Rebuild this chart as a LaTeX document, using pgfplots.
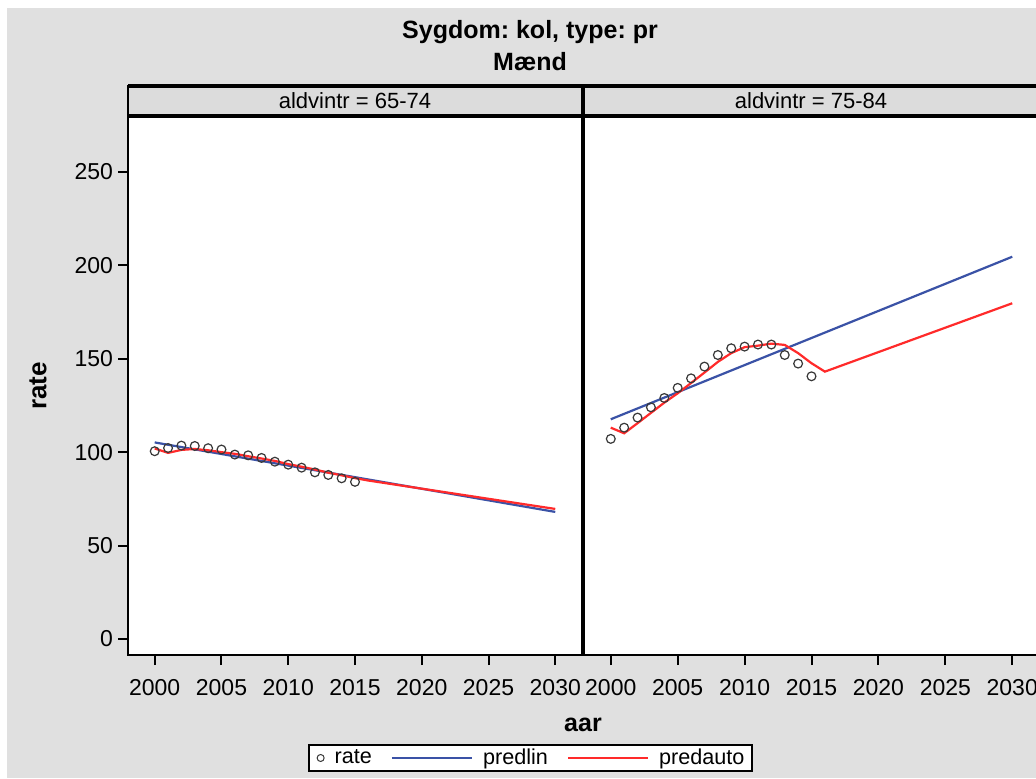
\documentclass[border=0pt]{standalone}
\usepackage{fontspec}
\setmainfont{Liberation Sans}
\usepackage{pgfplots}
\pgfplotsset{compat=1.18}
\frenchspacing
\definecolor{bg}{HTML}{E0E0E0}
\definecolor{hdr}{HTML}{DCDCDC}
\definecolor{blin}{HTML}{3A52A6}
\definecolor{rauto}{HTML}{FF2A2A}
\definecolor{mk}{HTML}{383838}

\pgfplotsset{
  panel/.style={
    scale only axis, height=269pt,
    xmin=1998, xmax=2032, ymin=-8.6, ymax=279.4,
    axis background/.style={fill=white},
    xtick={2000,2005,...,2030},
    ytick={0,50,...,250},
    xtick pos=bottom, ytick pos=left,
    tick align=outside, major tick length=5pt,
    tick style={black, line width=1pt},
    axis line style={black, line width=1pt},
    /pgf/number format/assume math mode=true,
    /pgf/number format/1000 sep={},
    ticklabel style={font=\fontsize{11.5}{13}\selectfont},
    xticklabel style={yshift=-3.5pt},
    yticklabel style={xshift=1pt},
    clip=false,
  },
  longline/.style={legend image code/.code={\draw[##1] (0pt,0pt) -- (40pt,0pt);}},
  ratest/.style={only marks, mark=o, mark size=2.2pt, mark options={draw=mk, line width=0.6pt},
    legend image code/.code={\draw[mk, line width=0.5pt] (0pt,0pt) circle (1.75pt);}},
  linst/.style={blin, line width=1.1pt, no markers, longline},
  autost/.style={rauto, line width=1.1pt, no markers, longline},
}

\begin{document}
\begin{tikzpicture}
\path[use as bounding box] (0pt,0pt) rectangle (518pt,-389pt);
\begin{scope}[x=0.5pt,y=-0.5pt]
\fill[white] (0,0) rectangle (1036,778);
\fill[bg] (7,8) rectangle (1036,778);
\fill[hdr] (128,86) rectangle (1040,117);
\end{scope}

% left panel
\begin{axis}[panel, width=227pt, at={(64pt,-327.5pt)}, anchor=south west,
  legend columns=3,
  legend style={at={(0.8866,-0.1914)}, anchor=center, draw=black, line width=1pt, fill=white,
    font=\fontsize{10.8}{12}\selectfont,
    inner xsep=4pt, inner ysep=2pt,
    nodes={inner sep=0pt},
    /tikz/every odd column/.append style={column sep=5pt},
    /tikz/every even column/.append style={column sep=9.5pt}},
  legend cell align=left]
\addplot[ratest] coordinates {
(2000,100.5) (2001,102.2) (2002,103.5) (2003,103.3) (2004,102.1) (2005,101.4)
(2006,98.7) (2007,98.3) (2008,96.9) (2009,94.9) (2010,93.3) (2011,91.7)
(2012,89.2) (2013,87.8) (2014,86.0) (2015,84.1)};
\addlegendentry{rate}
\addplot[linst] coordinates {(2000,105.2) (2030,68.0)};
\addlegendentry{predlin}
\addplot[autost] coordinates {
(2000,102.0) (2001,99.6) (2002,101.2) (2003,101.7) (2004,101.0) (2005,100.0)
(2006,99.1) (2007,97.8) (2008,96.6) (2009,95.3) (2010,93.6) (2011,92.2)
(2012,90.7) (2013,89.0) (2014,87.6) (2015,86.1) (2016,84.8) (2030,69.6)};
\addlegendentry{predauto}
\end{axis}

% right panel
\begin{axis}[panel, width=227.5pt, at={(292pt,-327.5pt)}, anchor=south west, ytick=\empty]
\addplot[ratest] coordinates {
(2000,107.1) (2001,113.1) (2002,118.5) (2003,124.0) (2004,129.0) (2005,134.4)
(2006,139.5) (2007,145.8) (2008,152.0) (2009,155.6) (2010,156.5) (2011,157.6)
(2012,157.6) (2013,152.0) (2014,147.4) (2015,140.6)};
\addplot[linst] coordinates {(2000,117.6) (2030,204.6)};
\addplot[autost] coordinates {
(2000,113.1) (2001,110.1) (2002,115.5) (2003,121.0) (2004,126.5) (2005,131.5)
(2006,137.0) (2007,142.6) (2008,148.3) (2009,153.0) (2010,156.2) (2011,157.0)
(2012,158.1) (2013,157.4) (2014,153.0) (2015,147.6) (2016,143.1) (2030,179.7)};
\end{axis}

\begin{scope}[x=0.5pt,y=-0.5pt]
\draw[line width=1pt] (128,86) rectangle (1040,117);
\draw[line width=1.6pt] (128,86) -- (1040,86);
\draw[line width=1.6pt] (128,116) -- (1040,116);
\draw[line width=2pt] (583,86) -- (583,655);
\node[font=\bfseries\fontsize{12.5}{14}\selectfont] at (530,32) {Sygdom: kol, type: pr};
\node[font=\bfseries\fontsize{12.5}{14}\selectfont] at (530,62) {Mænd};
\node[font=\fontsize{11}{13}\selectfont] at (355,101) {aldvintr = 65-74};
\node[font=\fontsize{11}{13}\selectfont] at (811,101) {aldvintr = 75-84};
\node[font=\bfseries\fontsize{13}{15}\selectfont, rotate=90] at (38,386) {rate};
\node[font=\bfseries\fontsize{12.5}{14}\selectfont] at (583,725) {aar};
\end{scope}
\end{tikzpicture}
\end{document}
